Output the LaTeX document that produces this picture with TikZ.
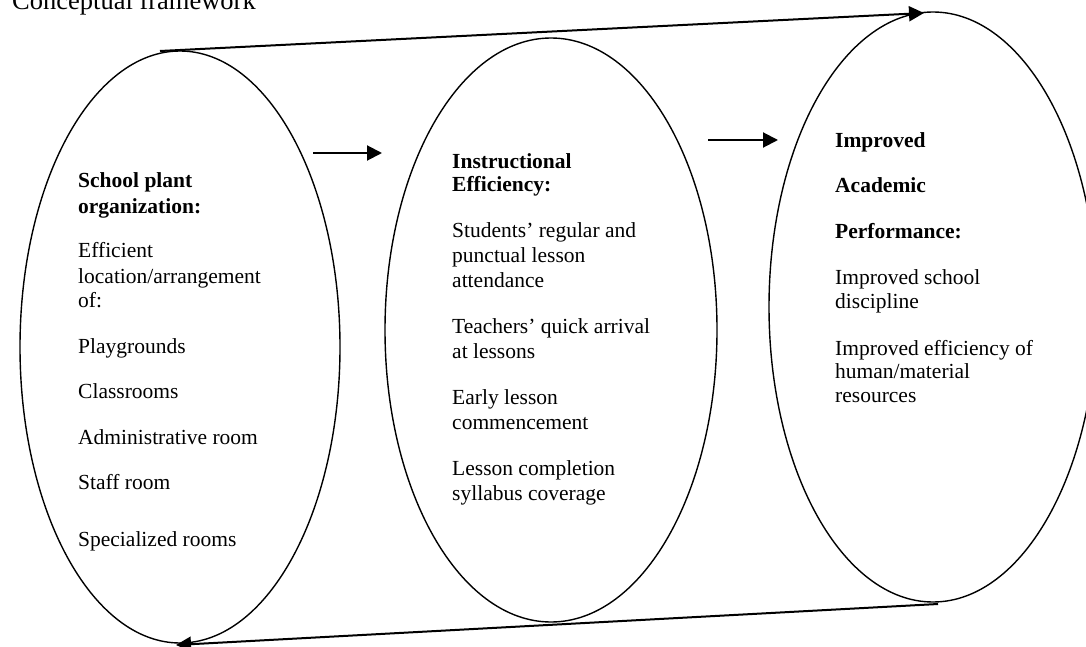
\documentclass[tikz,border=0pt]{standalone}
\usepackage{fontspec}
\setmainfont{Liberation Serif}
\usetikzlibrary{shapes.geometric,arrows.meta}
\tikzset{
  ell/.style={draw, ellipse, inner sep=0pt, line width=1.4pt},
  lbl/.style={anchor=base west, inner sep=0pt, font=\fontsize{21.5}{25}\selectfont},
  hdr/.style={lbl, font=\fontsize{21.5}{25}\selectfont\bfseries},
  ttl/.style={lbl, font=\fontsize{26.5}{30}\selectfont},
  conn/.style={line width=2pt, -{Triangle[length=15pt,width=15pt]}}
}
\newcommand\tline[5][lbl]{\node[#1] (#2) at (#3,#4) {#5};}
\begin{document}
\begin{tikzpicture}[x=1pt,y=-1pt]
\useasboundingbox (0,0) rectangle (1086,647);
% title
\tline[ttl]{title}{12}{10}{Conceptual framework}
% ellipses
\node[ell, minimum width=320pt, minimum height=592pt] (e1) at (180,347) {};
\node[ell, minimum width=332pt, minimum height=584pt] (e2) at (551,330) {};
\node[ell, minimum width=328pt, minimum height=590pt] (e3) at (933,307) {};
% connectors
\coordinate (ts) at (160,51);
\coordinate (te) at (924,13);
\coordinate (bs) at (938,604);
\coordinate (be) at (176,645);
\draw[conn] (ts) -- (te);
\draw[conn] (bs) -- (be);
\coordinate (a1s) at (313,153);
\coordinate (a1e) at (382,153);
\coordinate (a2s) at (708,140);
\coordinate (a2e) at (778,140);
\draw[conn] (a1s) -- (a1e);
\draw[conn] (a2s) -- (a2e);
% text ellipse 1
\tline[hdr]{s1}{78}{188}{School plant}
\tline[hdr]{s2}{78}{213}{organization:}
\tline{s3}{78}{257}{Efficient}
\tline{s4}{78}{283}{location/arrangement}
\tline{s5}{78}{307}{of:}
\tline{s6}{78}{353}{Playgrounds}
\tline{s7}{78}{398}{Classrooms}
\tline{s8}{78}{444}{Administrative room}
\tline{s9}{78}{489}{Staff room}
\tline{s10}{78}{546}{Specialized rooms}
% text ellipse 2
\tline[hdr]{i1}{452}{168}{Instructional}
\tline[hdr]{i2}{452}{192}{Efficiency:}
\tline{i3}{452}{237}{Students’ regular and}
\tline{i4}{452}{262}{punctual lesson}
\tline{i5}{452}{287}{attendance}
\tline{i6}{452}{333}{Teachers’ quick arrival}
\tline{i7}{452}{358}{at lessons}
\tline{i8}{452}{404}{Early lesson}
\tline{i9}{452}{429}{commencement}
\tline{i10}{452}{475}{Lesson completion}
\tline{i11}{452}{500}{syllabus coverage}
% text ellipse 3
\tline[hdr]{p1}{835}{148}{Improved}
\tline[hdr]{p2}{835}{193}{Academic}
\tline[hdr]{p3}{835}{238}{Performance:}
\tline{p4}{835}{284}{Improved school}
\tline{p5}{835}{308}{discipline}
\tline{p6}{835}{355}{Improved efficiency of}
\tline{p7}{835}{378}{human/material}
\tline{p8}{835}{402}{resources}
\end{tikzpicture}
\end{document}
